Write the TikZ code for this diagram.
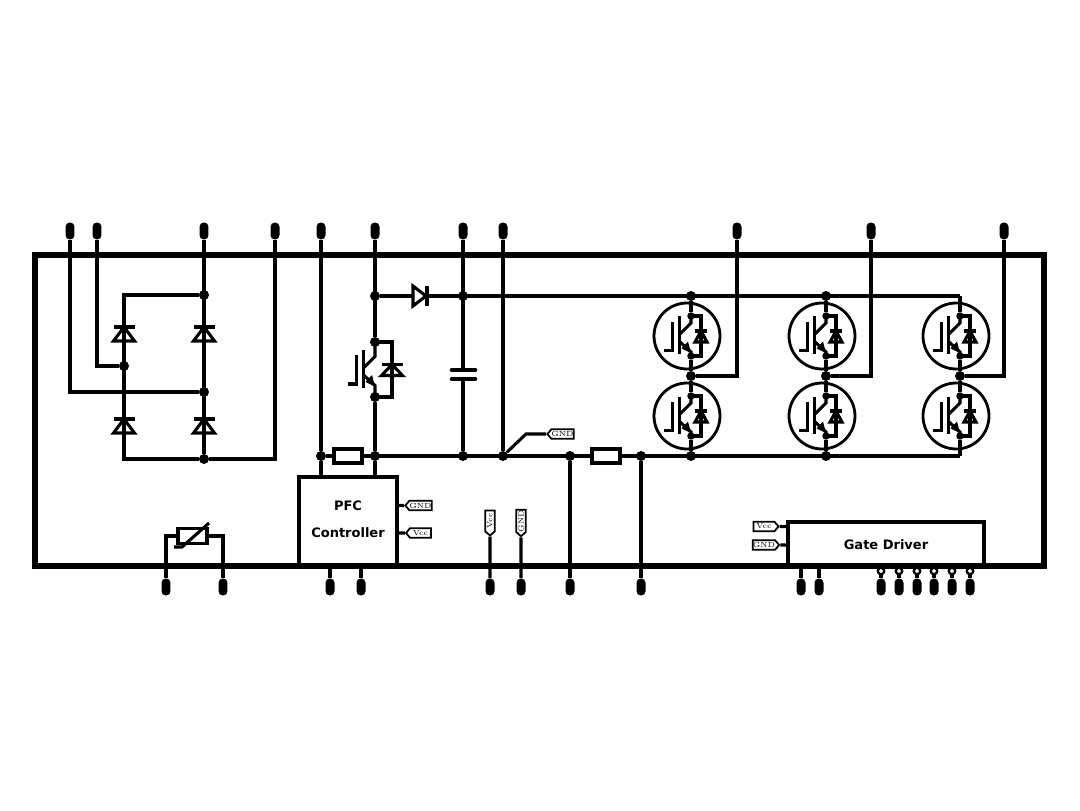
\documentclass[tikz,border=0pt]{standalone}
\usepackage{fontspec}
\usepackage{tikz}
\usetikzlibrary{positioning,shapes.symbols}
\newfontfamily\boxfont{DejaVu Sans Bold}

\tikzset{
	wire/.style={line width=1.8pt},
	thinwire/.style={line width=1.75pt},
	dot/.style={circle,fill=black,inner sep=0pt,minimum size=0.2cm},
	smalldot/.style={circle,fill=black,inner sep=0pt,minimum size=0.15cm},
	pin/.style={rectangle,rounded corners=0.085cm,fill=black,inner sep=0pt,minimum width=0.18cm,minimum height=0.34cm},
	ring/.style={circle,draw,fill=white,line width=1.3pt,inner sep=0pt,minimum size=0.13cm},
	tag/.style={signal,draw,fill=white,line width=1pt,inner sep=0pt,minimum width=0.5cm,minimum height=0.19cm,signal pointer angle=100,font=\fontsize{4.2}{5}\selectfont},
	block/.style={rectangle,draw,fill=white,line width=1.8pt,inner sep=0pt},
	blocktext/.style={inner sep=0pt,font=\boxfont\fontsize{7.4}{9}\selectfont},
}

% diode pointing up: x, y, half width, half height
\newcommand{\diodeup}[4]{
	\draw[thinwire] (#1-#3,#2+#4) -- (#1+#3,#2+#4) -- (#1,#2-#4) -- cycle;
	\draw[thinwire] (#1-#3,#2-#4) -- (#1+#3,#2-#4);
}

% igbt: name, x, y, lead length, diode offset, diode half width
\newcommand{\igbtsym}[6]{
	\begin{scope}[shift={(#2,#3)}]
		\coordinate (#1c) at (0,-#4);
		\coordinate (#1e) at (0,#4);
		\coordinate (#1dc) at (#5,-#4);
		\coordinate (#1de) at (#5,#4);
		\draw[thinwire] (#1c) -- (#1dc) -- (#1de) -- (#1e);
		\draw[thinwire] (#1c) -- (0,-13) -- (-11.5,-1.5);
		\draw[thinwire] (#1e) -- (0,16) -- (-11.5,5.5);
		\draw[thinwire] (-11.5,-19.5) -- (-11.5,18);
		\draw[thinwire] (-18.5,-14) -- (-18.5,14.5) -- (-27,14.5);
		\fill (0,17) -- (-9.5,12.5) -- (-3,5.5) -- cycle;
		\diodeup{#5}{0.5}{#6}{5.5}
	\end{scope}
}

\begin{document}
\begin{tikzpicture}[x=0.02cm,y=-0.02cm]
	\useasboundingbox (0,0) rectangle (1080,811);

	% pins
	\foreach \x in {70,97,204,275,321,375,463,503,737,871,1004}
		\node (t\x) [pin] at (\x,231) {};
	\foreach \x in {166,223,330,361,490,521,570,641,801,819,881,899,917,934,952,970}
		\node (b\x) [pin] at (\x,587) {};

	% junctions
	\foreach \n/\x/\y in {brt/204/295,brl/124/366,brm/204/392,brb/204/459,
			pfct/375/296,pfcd/463/296,pfcs/321/456,pfcg/375/456,capg/463/456,
			railg/503/456,railr/570/456,railo/641/456}
		\node (\n) [dot] at (\x,\y) {};
	\coordinate (brtl) at (124,295);
	\coordinate (brbl) at (124,459);

	% rectifier
	\draw[wire] (t70) |- (brm);
	\draw[wire] (t97) |- (brl);
	\draw[wire] (t204) -- (brb);
	\draw[wire] (t275) |- (brb);
	\draw[wire] (brt) -- (brtl) -- (brbl) -- (brb);
	\diodeup{124}{334}{10.5}{7}
	\diodeup{204}{334}{10.5}{7}
	\diodeup{124}{426}{10.5}{7}
	\diodeup{204}{426}{10.5}{7}

	% inverter legs
	\foreach \x/\o [count=\i] in {691/737,826/871,960/1004} {
		\node (mid\i) [dot] at (\x,376) {};
		\igbtsym{hi\i}{\x}{336}{20}{10}{6}
		\igbtsym{lo\i}{\x}{416}{20}{10}{6}
		\node (hid\i) [smalldot] at (hi\i c) {};
		\node (hie\i) [smalldot] at (hi\i e) {};
		\node (lod\i) [smalldot] at (lo\i c) {};
		\node (loe\i) [smalldot] at (lo\i e) {};
		\node (chi\i) [circle,draw,line width=1.6pt,inner sep=0pt,minimum size=1.32cm] at (\x-4,336) {};
		\node (clo\i) [circle,draw,line width=1.6pt,inner sep=0pt,minimum size=1.32cm] at (\x-4,416) {};
		\draw[wire] (mid\i) -| (t\o);
		\draw[wire] (hie\i) -- (mid\i) -- (lod\i);
	}
	\node (top1) [dot] at (691,296) {};
	\node (top2) [dot] at (826,296) {};
	\node (bot1) [dot] at (691,456) {};
	\node (bot2) [dot] at (826,456) {};
	\coordinate (top3) at (960,296);
	\coordinate (bot3) at (960,456);
	\foreach \i in {1,2,3} {
		\draw[wire] (top\i) -- (hid\i);
		\draw[wire] (loe\i) -- (bot\i);
	}

	% rails
	\draw[wire] (pfct) -- (top3);
	\draw[wire] (pfcs) -- (bot3);
	\draw[wire] (t321) -- (pfcs);
	\draw[wire] (t463) -- (capg);
	\draw[wire] (t503) -- (railg);
	\draw[wire] (railr) -- (b570);
	\draw[wire] (railo) -- (b641);
	\node (rshunt) [block,minimum width=0.56cm,minimum height=0.28cm] at (348,456) {};
	\node (rsense) [block,minimum width=0.56cm,minimum height=0.28cm] at (606,456) {};

	% boost stage
	\igbtsym{pfcq}{375}{369.5}{27.5}{17}{10.5}
	\node (pfcc) [dot] at (pfcqc) {};
	\node (pfce) [dot] at (pfcqe) {};
	\draw[wire] (t375) -- (pfcc);
	\draw[wire] (pfce) -- (pfcg);
	\draw[thinwire,fill=white] (413,286) -- (413,306) -- (426,296) -- cycle;
	\draw[thinwire] (427,286) -- (427,306);
	\node (capa) [rectangle,fill=white,inner sep=0pt,minimum width=0.1cm,minimum height=0.18cm] at (463,374.5) {};
	\draw[line width=2.6pt,line cap=round] (452,370) -- (475,370);
	\draw[line width=2.6pt,line cap=round] (452,379) -- (475,379);

	% package outline
	\draw[line width=2.9pt] (35,255) rectangle (1044,566);

	% pfc controller
	\node (pfc) [block,minimum width=1.96cm,minimum height=1.76cm] at (348,521) {};
	\draw[wire] (pfcs) -- (321,477);
	\draw[wire] (pfcg) -- (375,477);
	\node (pfctxt) [blocktext] at (348,506) {PFC};
	\node (ctltxt) [blocktext] at (348,533) {Controller};
	\node (gnda) [tag,signal to=west] at (420.5,505.5) {GND};
	\node (vcca) [tag,signal to=west] at (420.5,533) {Vcc};
	\draw[thinwire] (397,505.5) -- (gnda);
	\draw[thinwire] (397,533) -- (vcca);
	\draw[wire] (330,566) -- (b330);
	\draw[wire] (361,566) -- (b361);

	% ground tag on the rail
	\node (gndb) [tag,signal to=west] at (562.5,434) {GND};
	\coordinate (gndk) at (526,434);
	\draw[thinwire] (railg) -- (gndk) -- (gndb);

	% supply tags
	\node (vccc) [tag,rotate=90,signal to=west] at (490,521) {Vcc};
	\node (gndc) [tag,rotate=90,signal to=west] at (521,521) {GND};
	\draw[thinwire] (vccc) -- (b490);
	\draw[thinwire] (gndc) -- (b521);

	% varistor
	\node (var) [block,minimum width=0.58cm,minimum height=0.3cm] at (192.5,536) {};
	\draw[wire] (b166) |- (var);
	\draw[wire] (b223) |- (var);
	\draw[thinwire] (174,547) -- (182,547) -- (209,523);

	% gate driver
	\node (drv) [block,minimum width=3.92cm,minimum height=0.86cm] at (886,543.5) {};
	\node (drvtxt) [blocktext] at (886,545) {Gate Driver};
	\node (vccd) [tag,signal to=east] at (764,526.5) {Vcc};
	\node (gndd) [tag,signal to=east] at (764,545) {GND};
	\draw[thinwire] (vccd) -- (788,526.5);
	\draw[thinwire] (gndd) -- (788,545);
	\draw[wire] (801,566) -- (b801);
	\draw[wire] (819,566) -- (b819);
	\foreach \x in {881,899,917,934,952,970} {
		\draw[wire] (\x,571) -- (b\x);
		\node (r\x) [ring] at (\x,571) {};
	}
\end{tikzpicture}
\end{document}
